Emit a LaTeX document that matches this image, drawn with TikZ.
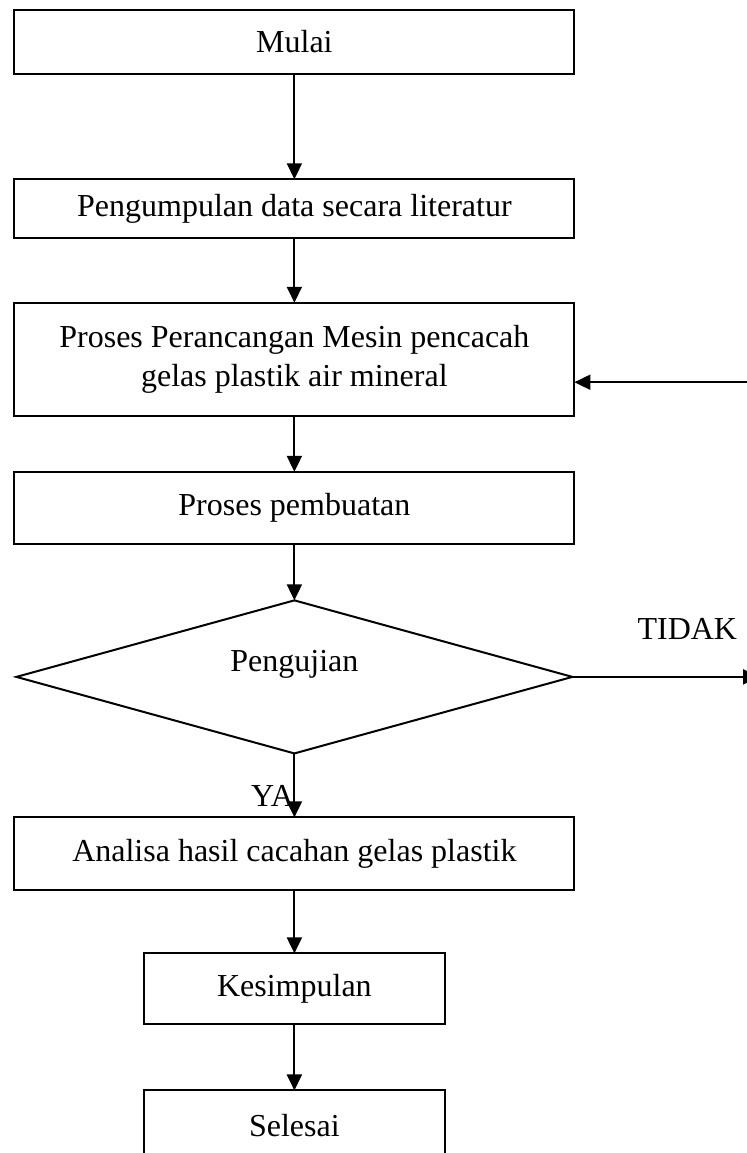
\documentclass[tikz,border=0pt]{standalone}
\usepackage{fontspec}
\setmainfont{Liberation Serif}
\usetikzlibrary{arrows.meta,positioning,shapes.geometric}
\tikzset{
  box/.style      = {draw=black, line width=0.75pt, minimum width=210pt, outer sep=0pt,
                     align=center, inner sep=0pt, font=\fontsize{12}{14.4}\selectfont},
  shortbox/.style = {box, minimum width=113pt},
  choice/.style   = {diamond, draw=black, line width=0.75pt, minimum width=208.5pt,
                     minimum height=57.4pt, inner sep=0pt, outer sep=0pt,
                     font=\fontsize{12}{14.4}\selectfont},
  note/.style     = {inner sep=0pt, font=\fontsize{12}{14.4}\selectfont},
  flow/.style     = {-{Triangle[length=6pt,width=5.6pt]}, line width=0.8pt},
}
\begin{document}
\begin{tikzpicture}
\useasboundingbox (0,0) rectangle (280.1pt,-432.4pt);
% main column
\node[box, minimum height=24pt] (mulai) at (110.4pt,-15.75pt) {Mulai};
\node[box, minimum height=22.1pt, below=39.5pt of mulai] (data) {Pengumpulan data secara literatur};
\node[box, minimum height=42.4pt, below=24.2pt of data] (rancang) {Proses Perancangan Mesin pencacah\\gelas plastik air mineral};
\node[box, minimum height=26.9pt, below=21pt of rancang] (buat) {Proses pembuatan};
\node[choice, below=21.3pt of buat] (uji) {\raisebox{2pt}[0pt][0pt]{Pengujian}};
\node[box, minimum height=27.4pt, below=24pt of uji] (analisa) {Analisa hasil cacahan gelas plastik};
\node[shortbox, minimum height=26.6pt, below=23.6pt of analisa] (simpul) {Kesimpulan};
\node[shortbox, minimum height=26.6pt, below=24.8pt of simpul] (selesai) {Selesai};
% labels
\node[note, anchor=base east] (ya) at ([yshift=4.1pt]analisa.north) {YA};
\node[note, anchor=base] (tidak) at ([xshift=43.1pt,yshift=13.9pt]uji.east) {TIDAK};
% loose ends at the right margin
\coordinate (tidakujung) at ([xshift=70pt]uji.east);
\coordinate (kembali) at ([xshift=68pt,yshift=-8.6pt]rancang.east);
% connectors
\draw[flow] (mulai) -- (data);
\draw[flow] (data) -- (rancang);
\draw[flow] (rancang) -- (buat);
\draw[flow] (buat) -- (uji);
\draw[flow] (uji) -- (analisa);
\draw[flow] (analisa) -- (simpul);
\draw[flow] (simpul) -- (selesai);
\draw[flow] (uji.east) -- (tidakujung);
\draw[flow] (kembali) -- ([yshift=-8.6pt]rancang.east);
\end{tikzpicture}
\end{document}
